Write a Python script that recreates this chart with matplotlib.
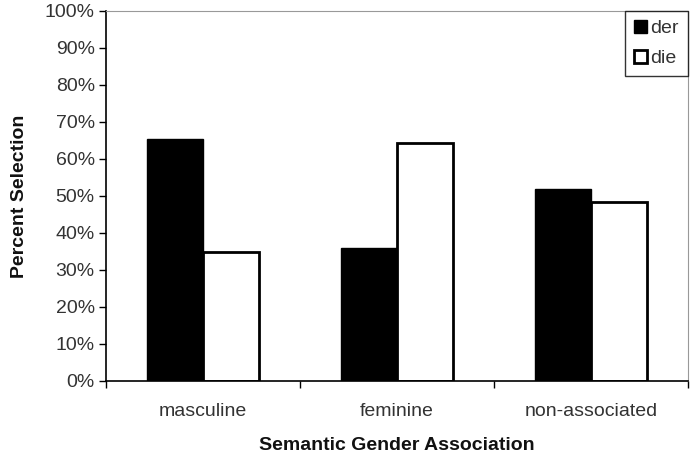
import numpy as np
import matplotlib.pyplot as plt
from matplotlib.ticker import FixedLocator, PercentFormatter

categories = ["masculine", "feminine", "non-associated"]
der_values = [65.3, 35.8, 51.9]
die_values = [34.9, 64.2, 48.4]

plt.rcParams["font.family"] = ["Liberation Sans", "DejaVu Sans"]

fig = plt.figure(figsize=(6.92, 4.54), dpi=100)
ax = fig.add_axes([0.153, 0.161, 0.841, 0.815])

x = np.arange(len(categories))
width = 0.29
text_color = "#333333"

ax.bar(x - width / 2, der_values, width, color="black", edgecolor="black",
       linewidth=1, label="der")
ax.bar(x + width / 2, die_values, width, color="white", edgecolor="black",
       linewidth=2, label="die")

ax.set_xlim(-0.5, len(categories) - 0.5)
ax.set_ylim(0, 100)
ax.set_yticks(np.arange(0, 101, 10))
ax.yaxis.set_major_formatter(PercentFormatter(decimals=0))

# category labels centred, tick marks on the boundaries
ax.set_xticks(x)
ax.set_xticklabels(categories)
ax.tick_params(axis="x", which="major", length=0, pad=16, labelsize=14,
               labelcolor=text_color)
ax.xaxis.set_minor_locator(FixedLocator(np.arange(-0.5, len(categories), 1.0)))
ax.tick_params(axis="x", which="minor", length=5, width=1, direction="out")
ax.tick_params(axis="y", length=5, width=1, direction="out", labelsize=14,
               labelcolor=text_color, pad=3)

for side in ["top", "right"]:
    ax.spines[side].set_color("#999999")
for side in ["left", "bottom"]:
    ax.spines[side].set_color("black")
    ax.spines[side].set_linewidth(1.2)

ax.set_xlabel("Semantic Gender Association", fontsize=14, fontweight="bold",
              labelpad=12, color="#111111")
ax.set_ylabel("Percent Selection", fontsize=14, fontweight="bold", labelpad=12,
              color="#111111")

leg = ax.legend(loc="upper right", bbox_to_anchor=(1.0, 1.0), fontsize=14,
                frameon=True, fancybox=False, borderaxespad=0.0,
                handlelength=0.65, handleheight=0.65, handletextpad=0.2,
                labelspacing=0.65, borderpad=0.45)
leg.get_frame().set_edgecolor("black")
leg.get_frame().set_linewidth(1)
for t in leg.get_texts():
    t.set_color(text_color)

fig.savefig("out.png", dpi=100)
